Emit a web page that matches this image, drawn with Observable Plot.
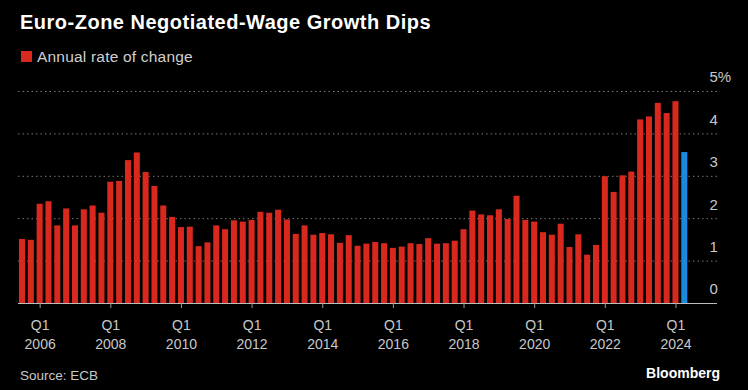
<!DOCTYPE html>
<html>
<head>
<meta charset="utf-8">
<script src="https://cdn.jsdelivr.net/npm/d3@7"></script>
<script src="https://cdn.jsdelivr.net/npm/@observablehq/plot@0.6"></script>
<style>
  html, body { margin: 0; padding: 0; background: #000; }
  #wrap { position: relative; width: 748px; height: 390px; background: #000; overflow: hidden;
          font-family: "Liberation Sans", Arial, sans-serif; }
  .t { position: absolute; white-space: nowrap; line-height: 1; }
  #title { left: 20px; top: 12px; font-size: 20px; font-weight: bold; color: #fff; letter-spacing: 0.5px; }
  #legend { left: 21px; top: 48.5px; font-size: 15.5px; color: #d0d0d0; }
  #legend .sw { position: absolute; left: 0; top: 2.5px; width: 11px; height: 11px; background: #d9291f; }
  #legend .lb { position: absolute; left: 16px; top: 0; letter-spacing: 0.2px; }
  #source { left: 20px; top: 368.5px; font-size: 13.5px; color: #c8c8c8; }
  #brand { right: 28px; top: 365.5px; font-size: 14px; font-weight: bold; color: #fff; }
  #chart { position: absolute; left: 0; top: 0; }
</style>
</head>
<body>
<div id="wrap">
  <div id="chart"></div>
  <div class="t" id="title">Euro-Zone Negotiated-Wage Growth Dips</div>
  <div class="t" id="legend"><span class="sw"></span><span class="lb">Annual rate of change</span></div>
  <div class="t" id="source">Source: ECB</div>
  <div class="t" id="brand">Bloomberg</div>
</div>
<script>
// Categories: quarters from Q3 2005 to Q2 2024
const firstYear = 2005, firstQuarter = 3;
// Annual rate of change of negotiated wages (%)
const values = [
  1.51, 1.49,                 // 2005 Q3-Q4
  2.34, 2.40, 1.83, 2.23,     // 2006
  1.83, 2.21, 2.30, 2.13,     // 2007
  2.86, 2.88, 3.37, 3.55,     // 2008
  3.09, 2.76, 2.30, 2.03,     // 2009
  1.79, 1.80, 1.34, 1.43,     // 2010
  1.83, 1.74, 1.95, 1.92,     // 2011
  1.96, 2.15, 2.13, 2.20,     // 2012
  1.97, 1.63, 1.83, 1.61,     // 2013
  1.65, 1.62, 1.42, 1.60,     // 2014
  1.35, 1.40, 1.44, 1.41,     // 2015
  1.30, 1.33, 1.41, 1.39,     // 2016
  1.53, 1.40, 1.41, 1.47,     // 2017
  1.74, 2.18, 2.09, 2.07,     // 2018
  2.21, 1.98, 2.53, 1.96,     // 2019
  1.92, 1.67, 1.61, 1.87,     // 2020
  1.32, 1.62, 1.14, 1.37,     // 2021
  2.99, 2.62, 3.01, 3.10,     // 2022
  4.33, 4.40, 4.72, 4.48,     // 2023
  4.76, 3.56                  // 2024 Q1-Q2
];
const highlightQuarter = "2024 Q2";
const xTickYears = [2006, 2008, 2010, 2012, 2014, 2016, 2018, 2020, 2022, 2024];
const yTicks = [0, 1, 2, 3, 4, 5];

const RED = "#d9291f", BLUE = "#1a8ae0";

const data = values.map((v, i) => {
  const idx = (firstQuarter - 1) + i;
  const year = firstYear + Math.floor(idx / 4);
  const q = (idx % 4) + 1;
  const label = `${year} Q${q}`;
  return { label, t: year + (q - 1) / 4, v, kind: label === highlightQuarter ? "latest" : "past" };
});

const chart = Plot.plot({
  width: 748,
  height: 390,
  marginTop: 91,
  marginBottom: 87,
  marginLeft: 18,
  marginRight: 31,
  style: { background: "transparent", color: "#c8c8c8", fontFamily: "'Liberation Sans', Arial, sans-serif", fontSize: "14px" },
  x: { type: "linear", domain: [2005.387, 2025.176], label: null },
  y: { domain: [0, 5], label: null },
  color: { domain: ["past", "latest"], range: [RED, BLUE] },
  marks: [
    Plot.gridY(yTicks.filter(d => d > 0), { stroke: "#7a7a7a", strokeOpacity: 1, strokeDasharray: "1.5,3" }),
    Plot.rectY(data, { x1: d => d.t - 0.125, x2: d => d.t + 0.125, y: "v", fill: "kind", insetLeft: 1.4, insetRight: 1.4 }),
    Plot.ruleY([0], { stroke: "#bdbdbd", strokeWidth: 1 }),
    Plot.axisX(xTickYears, { label: null, tickSize: 5, tickPadding: 8, stroke: "#9a9a9a", fill: "#c8c8c8",
      tickFormat: d => `Q1\n${d}`, lineHeight: 1.36, fontSize: 14 }),
    Plot.axisY(yTicks, { label: null, anchor: "right", tickSize: 0, tickPadding: 0, dx: -8, dy: -14, textAnchor: "start",
      fill: "#c8c8c8", fontSize: 15, tickFormat: d => d === 5 ? "5%" : String(d) })
  ]
});
document.getElementById("chart").appendChild(chart);
</script>
</body>
</html>
